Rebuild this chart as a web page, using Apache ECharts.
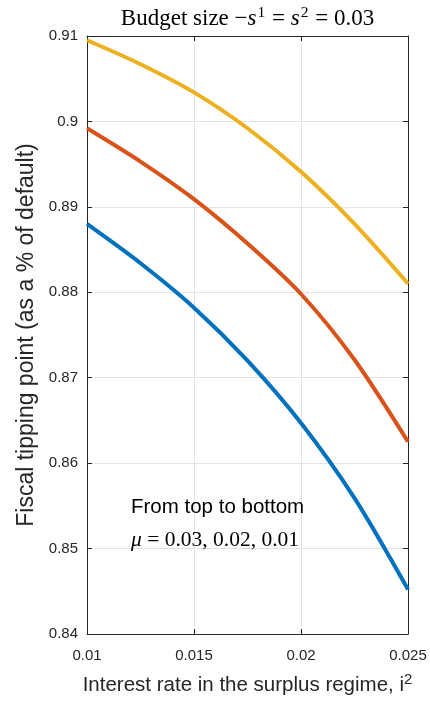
<!DOCTYPE html>
<html>
<head>
<meta charset="utf-8">
<title>Fiscal tipping point</title>
<script src="https://cdn.jsdelivr.net/npm/echarts@6/dist/echarts.min.js"></script>
<style>
  html, body { margin: 0; padding: 0; background: #ffffff; }
  #chart { width: 430px; height: 701px; }
</style>
</head>
<body>
<div id="chart"></div>
<script>
// Interest rate in the surplus regime (x) and the fiscal tipping point for each mu
const rates = [0.01, 0.0125, 0.015, 0.0175, 0.02, 0.0225, 0.025];
const tippingMu001 = [0.8880, 0.8834, 0.8782, 0.8720, 0.8647, 0.8559, 0.8452];
const tippingMu002 = [0.8992, 0.8953, 0.8909, 0.8857, 0.8798, 0.8721, 0.8625];
const tippingMu003 = [0.9095, 0.9067, 0.9034, 0.8992, 0.8941, 0.8880, 0.8810];

const xTickLabels = ['0.01', '0.015', '0.02', '0.025'];
const yTickLabels = ['0.84', '0.85', '0.86', '0.87', '0.88', '0.89', '0.9', '0.91'];

const seriesColors = ['#0072BD', '#D95319', '#EDB120'];
const axisColor = '#262626';
const gridColor = '#e3e3e3';
const sans = 'Liberation Sans, Arial, Helvetica, sans-serif';
const serif = 'Liberation Serif, Times New Roman, serif';

function pickLabel(list, v) {
  const hit = list.find(t => Math.abs(parseFloat(t) - v) < 1e-9);
  return hit === undefined ? '' : hit;
}

function pairs(ys) {
  return rates.map((x, i) => [x, ys[i]]);
}

const chart = echarts.init(document.getElementById('chart'), null, { renderer: 'canvas' });

const grid = { left: 87, right: 22, top: 36, bottom: 67, containLabel: false };

// Mirror axes on top and right close the box, with inward ticks only
const boxAxis = {
  axisLine: { show: true, onZero: false, lineStyle: { color: axisColor, width: 1 } },
  axisTick: { show: true, inside: true, length: 5, lineStyle: { color: axisColor, width: 1 } },
  axisLabel: { show: false },
  splitLine: { show: false }
};

function line(name, ys, color) {
  return {
    name: name,
    type: 'line',
    data: pairs(ys),
    smooth: 0.3,
    showSymbol: false,
    symbol: 'none',
    lineStyle: { color: color, width: 4, cap: 'butt' },
    itemStyle: { color: color },
    z: 3,
    silent: true,
    animation: false
  };
}

chart.setOption({
  animation: false,
  backgroundColor: '#ffffff',
  grid: grid,
  xAxis: [
    {
      type: 'value', position: 'bottom',
      min: 0.01, max: 0.025, interval: 0.005,
      axisLine: { show: true, onZero: false, lineStyle: { color: axisColor, width: 1 } },
      axisTick: { show: true, inside: true, length: 5, lineStyle: { color: axisColor, width: 1 } },
      axisLabel: {
        show: true, margin: 14, color: axisColor,
        fontFamily: sans, fontSize: 15,
        formatter: v => pickLabel(xTickLabels, v)
      },
      splitLine: { show: true, lineStyle: { color: gridColor, width: 1 } },
      name: '{a|Interest rate in the surplus regime, i}{s|2}',
      nameLocation: 'middle',
      nameGap: 38,
      nameTextStyle: {
        rich: {
          a: { fontFamily: sans, fontSize: 20.5, color: axisColor, lineHeight: 24, verticalAlign: 'bottom' },
          s: { fontFamily: sans, fontSize: 15, color: axisColor, lineHeight: 24, verticalAlign: 'top' }
        }
      }
    },
    Object.assign({ type: 'value', position: 'top', min: 0.01, max: 0.025, interval: 0.005 }, boxAxis)
  ],
  yAxis: [
    {
      type: 'value', position: 'left',
      min: 0.84, max: 0.91, interval: 0.01,
      axisLine: { show: true, onZero: false, lineStyle: { color: axisColor, width: 1 } },
      axisTick: { show: true, inside: true, length: 5, lineStyle: { color: axisColor, width: 1 } },
      axisLabel: {
        show: true, margin: 9, color: axisColor,
        fontFamily: sans, fontSize: 15,
        formatter: v => pickLabel(yTickLabels, v)
      },
      splitLine: { show: true, lineStyle: { color: gridColor, width: 1 } },
      name: 'Fiscal tipping point (as a % of default)',
      nameLocation: 'middle',
      nameGap: 45,
      nameTextStyle: { fontFamily: sans, fontSize: 23, color: axisColor }
    },
    Object.assign({ type: 'value', position: 'right', min: 0.84, max: 0.91, interval: 0.01 }, boxAxis)
  ],
  series: [
    line('\u03bc = 0.01', tippingMu001, seriesColors[0]),
    line('\u03bc = 0.02', tippingMu002, seriesColors[1]),
    line('\u03bc = 0.03', tippingMu003, seriesColors[2])
  ],
  graphic: [
    {
      type: 'text', x: 247.5, y: 5, z: 10, silent: true,
      style: {
        text: '{n|Budget size \u2212}{i|s}{p|1}{n| = }{i|s}{p|2}{n| = 0.03}',
        textAlign: 'center', textVerticalAlign: 'top',
        rich: {
          n: { fontFamily: serif, fontSize: 23, fill: '#000', lineHeight: 27 },
          i: { fontFamily: serif, fontSize: 23, fontStyle: 'italic', fill: '#000', lineHeight: 27 },
          p: { fontFamily: serif, fontSize: 15.5, fill: '#000', lineHeight: 27, verticalAlign: 'top', padding: [0, 1, 0, 1] }
        }
      }
    },
    {
      type: 'text', x: 131, y: 497, z: 10, silent: true,
      style: {
        text: 'From top to bottom',
        fontFamily: sans, fontSize: 20.5, fill: '#000',
        textAlign: 'left', textVerticalAlign: 'top'
      }
    },
    {
      type: 'text', x: 131, y: 529, z: 10, silent: true,
      style: {
        text: '{i|\u03bc}{n| = 0.03, 0.02, 0.01}',
        textAlign: 'left', textVerticalAlign: 'top',
        rich: {
          n: { fontFamily: serif, fontSize: 21.5, fill: '#000', lineHeight: 22 },
          i: { fontFamily: serif, fontSize: 21.5, fontStyle: 'italic', fill: '#000', lineHeight: 22 }
        }
      }
    }
  ]
});
</script>
</body>
</html>
